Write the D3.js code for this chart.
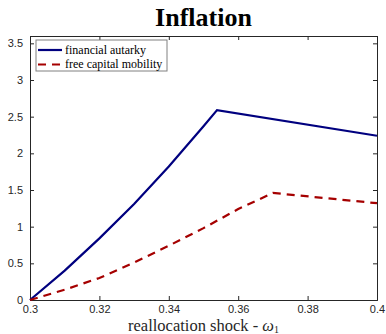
<!DOCTYPE html>
<html>
<head>
<meta charset="utf-8">
<script src="https://cdn.jsdelivr.net/npm/d3@7"></script>
<style>
  body { margin: 0; background: #fff; }
  svg { display: block; }
  .tick text { font-family: "Liberation Sans", Arial, sans-serif; font-size: 11px; fill: #262626; }
</style>
</head>
<body>
<svg width="386" height="334"></svg>
<script>
// series values
var autarkyX = [0.3, 0.31, 0.32, 0.33, 0.34, 0.35, 0.3539, 0.4];
var autarkyY = [0, 0.40, 0.84, 1.31, 1.82, 2.37, 2.59, 2.24];
var mobilityX = [0.3, 0.31, 0.32, 0.33, 0.34, 0.35, 0.36, 0.37, 0.4];
var mobilityY = [0, 0.14, 0.30, 0.51, 0.74, 0.98, 1.24, 1.46, 1.32];

var xTicks = [0.3, 0.32, 0.34, 0.36, 0.38, 0.4];
var yTicks = [0, 0.5, 1, 1.5, 2, 2.5, 3, 3.5];
var seriesNames = ["financial autarky", "free capital mobility"];

var svg = d3.select("svg"),
    margin = {top: 36, right: 9, bottom: 34, left: 30},
    width = svg.attr("width") - margin.left - margin.right,
    height = svg.attr("height") - margin.top - margin.bottom,
    g = svg.append("g").attr("transform",
        "translate(" + margin.left + "," + margin.top + ")");

var x = d3.scaleLinear().domain([0.3, 0.4]).range([0, width]),
    y = d3.scaleLinear().domain([0, 3.6]).range([height, 0]);

var fmt = function (d) { return d3.format("")(+d.toFixed(2)); };

// axes, ticks pointing inward, box on all four sides
g.append("g")
    .attr("transform", "translate(0," + height + ")")
    .call(d3.axisBottom(x).tickValues(xTicks).tickSize(-4).tickPadding(5).tickFormat(fmt));
g.append("g")
    .call(d3.axisTop(x).tickValues(xTicks).tickSize(-4).tickFormat(""));
g.append("g")
    .call(d3.axisLeft(y).tickValues(yTicks).tickSize(-4).tickPadding(7).tickFormat(fmt));
g.append("g")
    .attr("transform", "translate(" + width + ",0)")
    .call(d3.axisRight(y).tickValues(yTicks).tickSize(-4).tickFormat(""));
g.selectAll(".domain").attr("stroke", "#262626").attr("stroke-width", 1);
g.selectAll(".tick line").attr("stroke", "#262626");

// lines
var line = d3.line()
    .x(function (d) { return x(d[0]); })
    .y(function (d) { return y(d[1]); });

g.append("path")
    .datum(d3.zip(autarkyX, autarkyY))
    .attr("fill", "none")
    .attr("stroke", "#00007f")
    .attr("stroke-width", 2.2)
    .attr("d", line);

g.append("path")
    .datum(d3.zip(mobilityX, mobilityY))
    .attr("fill", "none")
    .attr("stroke", "#a50000")
    .attr("stroke-width", 2.2)
    .attr("stroke-dasharray", "8,6")
    .attr("d", line);

// title and label
svg.append("text")
    .attr("x", margin.left + width / 2)
    .attr("y", 26)
    .attr("text-anchor", "middle")
    .style("font", "bold 26px 'Liberation Serif', 'DejaVu Serif', serif")
    .attr("fill", "#000")
    .text("Inflation");

var xl = svg.append("text")
    .attr("x", margin.left + width / 2)
    .attr("y", 331)
    .attr("text-anchor", "middle")
    .style("font", "16.5px 'Liberation Serif', 'DejaVu Serif', serif")
    .attr("fill", "#262626")
    .text("reallocation shock - ");
xl.append("tspan").style("font-style", "italic").text("ω");
xl.append("tspan").attr("dy", 1.5).style("font-size", "10px").text("1");

// legend
var lg = g.append("g").attr("transform", "translate(6,4)");
lg.append("rect")
    .attr("width", 131).attr("height", 31)
    .attr("fill", "#fff").attr("stroke", "#808080").attr("stroke-width", 1);
var styles = [{c: "#00007f", dash: null}, {c: "#a50000", dash: "8,6"}];
seriesNames.forEach(function (name, i) {
    var yy = 10 + i * 14.5;
    lg.append("line")
        .attr("x1", 2).attr("x2", 26).attr("y1", yy).attr("y2", yy)
        .attr("stroke", styles[i].c).attr("stroke-width", 2.2)
        .attr("stroke-dasharray", styles[i].dash);
    lg.append("text")
        .attr("x", 29).attr("y", yy).attr("dy", "0.33em")
        .style("font", "12px 'Liberation Serif', 'DejaVu Serif', serif")
        .attr("fill", "#000")
        .text(name);
});
</script>
</body>
</html>
